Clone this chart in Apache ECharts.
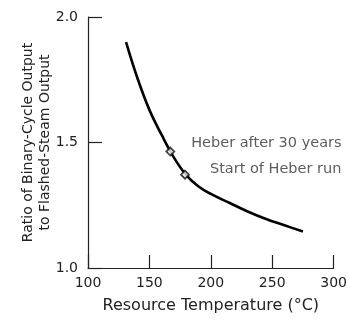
<!DOCTYPE html>
<html>
<head>
<meta charset="utf-8">
<script src="https://cdn.jsdelivr.net/npm/echarts@6/dist/echarts.min.js"></script>
<style>html,body{margin:0;padding:0;background:#fff}#c{width:350px;height:321px}</style>
</head>
<body>
<div id="c"></div>
<script>
// Curve: resource temperature (°C) vs. ratio
const curveTemps  = [131, 140, 150, 160, 170, 180, 190, 200, 215, 230, 245, 260, 275];
const curveRatios = [1.90, 1.76, 1.63, 1.53, 1.44, 1.37, 1.325, 1.295, 1.26, 1.225, 1.195, 1.17, 1.145];
// Heber points
const pointNames  = ["Heber after 30 years", "Start of Heber run"];
const pointTemps  = [167, 179];
const pointRatios = [1.464, 1.372];
const xTicks = [100, 150, 200, 250, 300];
const yTicks = [1.0, 1.5, 2.0];

const FONT = 'DejaVu Sans';
const chart = echarts.init(document.getElementById('c'), null, {renderer: 'canvas'});
const axisLine = {show: true, lineStyle: {color: '#222', width: 1.2}};
const labelOffsets = [[0, -8], [4, -5]];
chart.setOption({
  animation: false,
  backgroundColor: '#fff',
  grid: {left: 88, right: 11, top: 17, bottom: 53, containLabel: false},
  xAxis: {
    type: 'value', min: 100, max: 300, interval: 50,
    name: 'Resource Temperature (°C)', nameLocation: 'middle', nameGap: 30, nameMoveOverlap: false,
    nameTextStyle: {fontFamily: FONT, fontSize: 16, color: '#222'},
    axisLine: axisLine,
    axisTick: {show: true, inside: true, length: 13, lineStyle: {color: '#222', width: 1.2}},
    axisLabel: {fontFamily: FONT, fontSize: 14, color: '#222', margin: 8,
      formatter: v => xTicks.includes(v) ? String(v) : ''},
    splitLine: {show: false}
  },
  yAxis: {
    type: 'value', min: 1.0, max: 2.0, interval: 0.5,
    name: 'Ratio of Binary-Cycle Output\nto Flashed-Steam Output', nameLocation: 'middle', nameGap: 34, nameMoveOverlap: false,
    nameTextStyle: {fontFamily: FONT, fontSize: 14, color: '#222', lineHeight: 17},
    axisLine: axisLine,
    axisTick: {show: true, inside: true, length: 14, lineStyle: {color: '#222', width: 1.2}},
    axisLabel: {fontFamily: FONT, fontSize: 14, color: '#222', margin: 10,
      formatter: v => yTicks.some(t => Math.abs(t - v) < 1e-9) ? v.toFixed(1) : ''},
    splitLine: {show: false}
  },
  series: [
    {
      type: 'line', smooth: 0.4, symbol: 'none',
      data: curveTemps.map((t, i) => [t, curveRatios[i]]),
      lineStyle: {color: '#000', width: 2.6}
    },
    {
      type: 'scatter', symbol: 'diamond', symbolSize: 8, z: 3,
      data: pointTemps.map((t, i) => ({
        value: [t, pointRatios[i]], name: pointNames[i],
        label: {offset: labelOffsets[i]}
      })),
      itemStyle: {color: '#fff', borderColor: '#111', borderWidth: 1.8},
      label: {
        show: true, position: 'right', distance: 16,
        formatter: p => p.name,
        fontFamily: FONT, fontSize: 14.5, color: '#333'
      }
    }
  ]
});
</script>
</body>
</html>
